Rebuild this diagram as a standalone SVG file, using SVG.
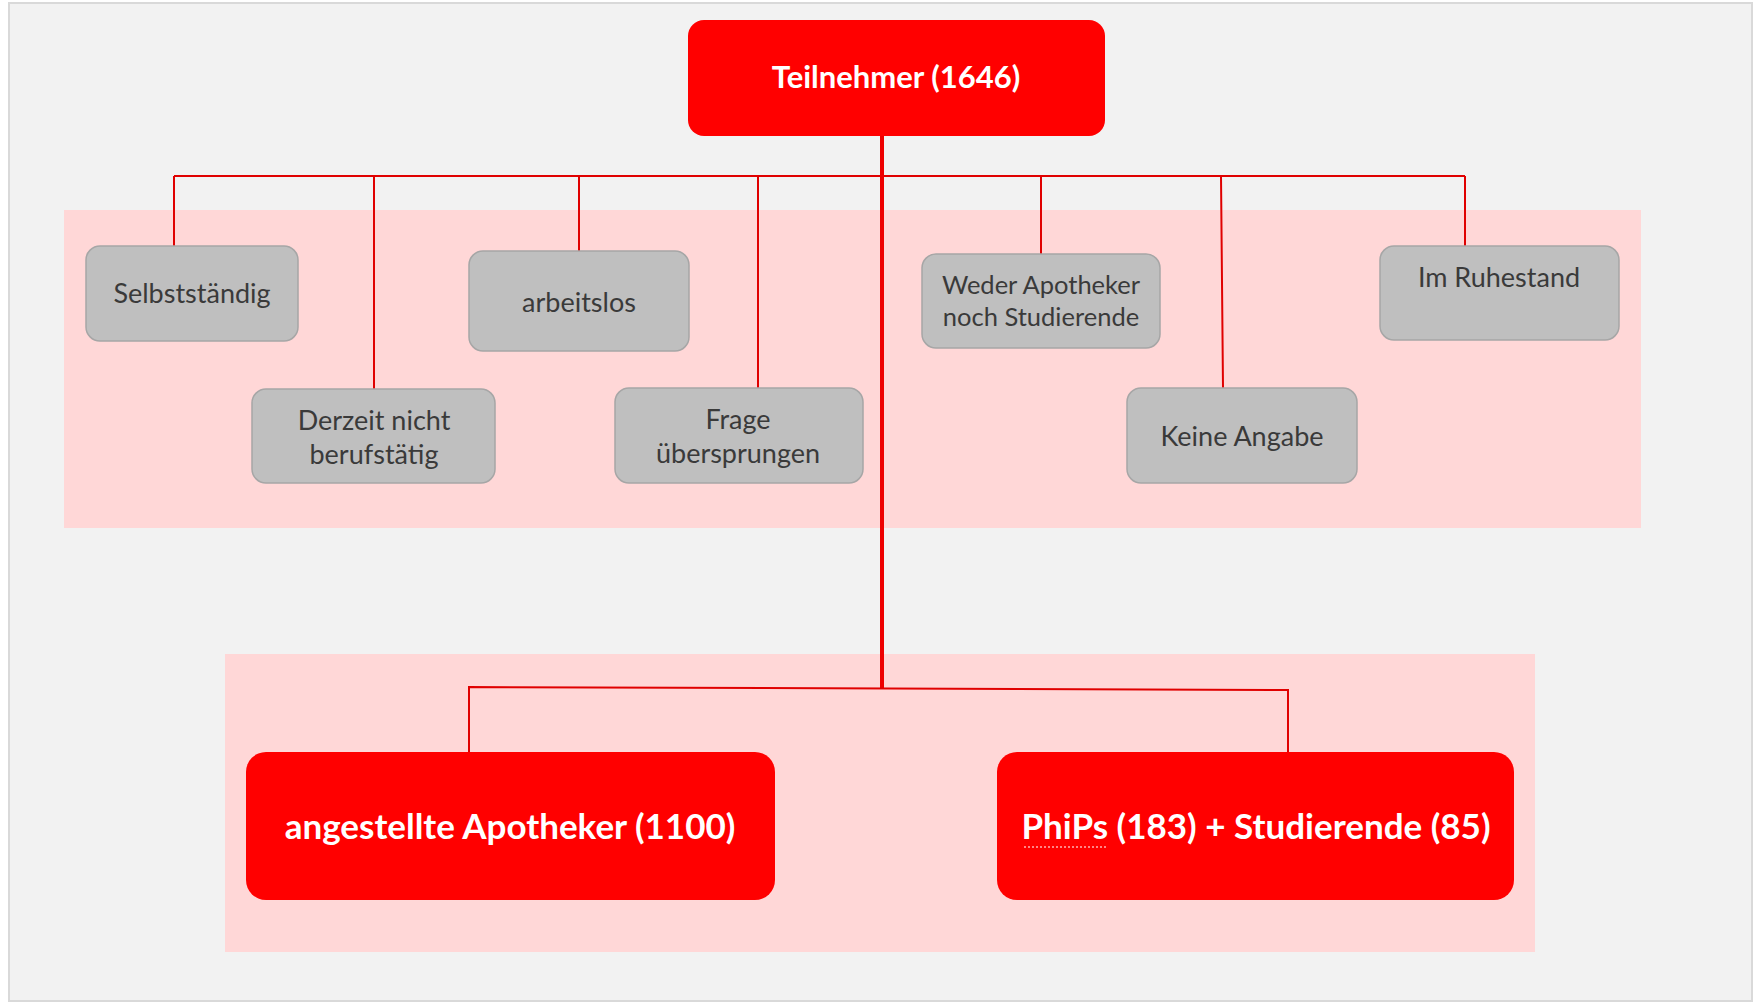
<svg xmlns="http://www.w3.org/2000/svg" width="1759" height="1004" viewBox="0 0 1759 1004">
<style>
.band{fill:#ffd7d7}
.gbox{fill:#bfbfbf;stroke:#a6a6a6;stroke-width:1.5}
.rbox{fill:#ff0000}
.gt{font-family:Lato,"Liberation Sans",sans-serif;font-size:27px;fill:#3a3a3a;text-anchor:middle}
.gs{font-size:25.5px}
.wt{font-family:Lato,"Liberation Sans",sans-serif;font-weight:bold;fill:#ffffff;text-anchor:middle}
.ln{stroke:#e00000;stroke-width:2;fill:none}
</style>
<rect x="0" y="0" width="1759" height="1004" fill="#ffffff"/>
<rect x="9" y="3" width="1743" height="998" fill="#f2f2f2" stroke="#d9d9d9" stroke-width="2"/>
<rect class="band" x="64" y="210" width="1577" height="318"/>
<rect class="band" x="225" y="654" width="1310" height="298"/>
<g id="connectors">
<path class="ln" d="M174 176 H1465"/>
<path class="ln" d="M174 176 V246 M374 176 V389 M579 176 V251 M758 176 V388 M1041 176 V254 M1221 176 L1223 388 M1465 176 V246"/>
<path d="M882 136 V688" stroke="#ee0000" stroke-width="4" fill="none"/>
<path class="ln" d="M469 752 V687 L1288 690 V752"/>
</g>
<g id="n-teilnehmer">
<rect class="rbox" x="688" y="20" width="417" height="116" rx="16"/>
<text class="wt" x="896" y="88" font-size="31">Teilnehmer (1646)</text>
</g>
<g id="n-selbststaendig">
<rect class="gbox" x="86" y="246" width="212" height="95" rx="14"/>
<text class="gt" x="192" y="303">Selbstständig</text>
</g>
<g id="n-derzeit">
<rect class="gbox" x="252" y="389" width="243" height="94" rx="14"/>
<text class="gt" x="374" y="430">Derzeit nicht</text>
<text class="gt" x="374" y="464">berufstätig</text>
</g>
<g id="n-arbeitslos">
<rect class="gbox" x="469" y="251" width="220" height="100" rx="14"/>
<text class="gt" x="579" y="312">arbeitslos</text>
</g>
<g id="n-frage">
<rect class="gbox" x="615" y="388" width="248" height="95" rx="14"/>
<text class="gt" x="738" y="429">Frage</text>
<text class="gt" x="738" y="463">übersprungen</text>
</g>
<g id="n-weder">
<rect class="gbox" x="922" y="254" width="238" height="94" rx="14"/>
<text class="gt gs" x="1041" y="294">Weder Apotheker</text>
<text class="gt gs" x="1041" y="326">noch Studierende</text>
</g>
<g id="n-keine">
<rect class="gbox" x="1127" y="388" width="230" height="95" rx="14"/>
<text class="gt" x="1242" y="446">Keine Angabe</text>
</g>
<g id="n-ruhestand">
<rect class="gbox" x="1380" y="246" width="239" height="94" rx="14"/>
<text class="gt" x="1499" y="287">Im Ruhestand</text>
</g>
<g id="n-angestellte">
<rect class="rbox" x="246" y="752" width="529" height="148" rx="20"/>
<text class="wt" x="510" y="839" font-size="35">angestellte Apotheker (1100)</text>
</g>
<g id="n-phips">
<rect class="rbox" x="997" y="752" width="517" height="148" rx="20"/>
<text class="wt" x="1256" y="839" font-size="35">PhiPs (183) + Studierende (85)</text>
<path d="M1024 847 H1106" stroke="#ffb0b0" stroke-width="1.5" stroke-dasharray="2 2"/>
</g>
</svg>
